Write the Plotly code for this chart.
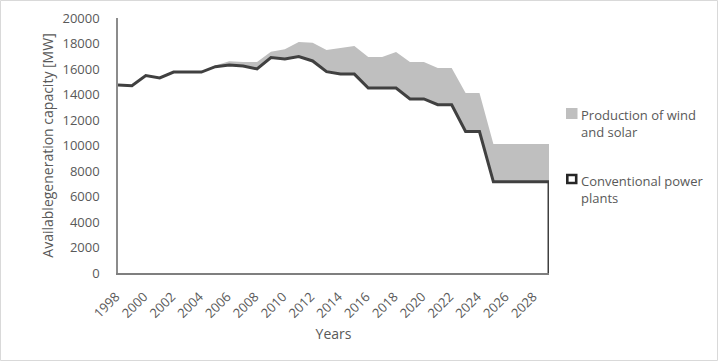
import plotly.graph_objects as go

years = list(range(1998, 2030))
conventional = [14750, 14680, 15480, 15300, 15760, 15760, 15760, 16180, 16310, 16240,
                16000, 16900, 16780, 16970, 16630, 15790, 15600, 15600, 14500, 14500,
                14500, 13650, 13650, 13200, 13200, 11100, 11100, 7150, 7150, 7150,
                7150, 7150]
wind_solar = [0, 0, 0, 0, 0, 0, 20, 100, 290, 310,
              550, 460, 760, 1150, 1430, 1700, 2050, 2200, 2440, 2440,
              2830, 2900, 2900, 2880, 2880, 3020, 3020, 2970, 2970, 2970,
              2970, 2970]
tick_years = list(range(1998, 2030, 2))
legend_labels = ["Production of wind<br>and solar", "Conventional power<br>plants"]

total = [c + w for c, w in zip(conventional, wind_solar)]
FONT = "Open Sans"
TXT = "#595959"
PW, PH, ML, MT = 431, 255, 118, 18


def px(x):
    return (x - ML) / PW


def py(y):
    return (MT + PH - y) / PH


fig = go.Figure()
fig.add_trace(go.Scatter(
    x=years, y=total, mode="lines", fill="tozeroy",
    fillcolor="#bfbfbf", line=dict(width=0, color="#bfbfbf"),
    name=legend_labels[0], showlegend=False, hoverinfo="skip"))
fig.add_trace(go.Scatter(
    x=years + [years[-1]], y=conventional + [0], mode="lines", fill="tozeroy",
    fillcolor="white", line=dict(width=3, color="#404040"),
    name=legend_labels[1], showlegend=False, hoverinfo="skip"))

shapes = [
    dict(type="rect", xref="paper", yref="paper",
         x0=px(0.5), x1=px(717.5), y0=py(360.5), y1=py(0.5),
         line=dict(color="#d9d9d9", width=1)),
    # legend swatches
    dict(type="rect", xref="paper", yref="paper",
         x0=px(566), x1=px(577.5), y0=py(119), y1=py(108),
         fillcolor="#bfbfbf", line=dict(width=0)),
    dict(type="rect", xref="paper", yref="paper",
         x0=px(567.3), x1=px(576.2), y0=py(183), y1=py(175),
         fillcolor="white", line=dict(width=2.6, color="#262626")),
]
annotations = [
    dict(xref="paper", yref="paper", x=px(579), y=py(104), xanchor="left",
         yanchor="top", align="left", showarrow=False, text=legend_labels[0],
         font=dict(size=13, color=TXT, family=FONT)),
    dict(xref="paper", yref="paper", x=px(579), y=py(170), xanchor="left",
         yanchor="top", align="left", showarrow=False, text=legend_labels[1],
         font=dict(size=13, color=TXT, family=FONT)),
]

fig.update_layout(
    width=718, height=361,
    margin=dict(l=118, r=169, t=18, b=88, autoexpand=False),
    paper_bgcolor="white", plot_bgcolor="white",
    font=dict(family=FONT, size=13, color=TXT),
    showlegend=False,
    xaxis=dict(range=[1998, 2029], tickvals=tick_years,
               ticktext=[str(t) for t in tick_years], tickangle=-45,
               showgrid=False, zeroline=False, showline=True,
               linecolor="#7f7f7f", linewidth=2, ticks="", automargin=False,
               ticklabelshift=-2, ticklabelstandoff=9,
               title=dict(text="Years", font=dict(size=14, color=TXT), standoff=9)),
    yaxis=dict(range=[0, 20000], dtick=2000, tickformat="d",
               showgrid=False, zeroline=False, automargin=False,
               showline=True, linecolor="#8c8c8c", linewidth=1.5, ticks="",
               ticklabelstandoff=14,
               title=dict(text="Availablegeneration capacity [MW]",
                          font=dict(size=14, color=TXT), standoff=6)),
    shapes=shapes,
    annotations=annotations,
)

fig.write_html("out.html", config={"displayModeBar": False},
               post_script="document.body.style.margin='0px';")
